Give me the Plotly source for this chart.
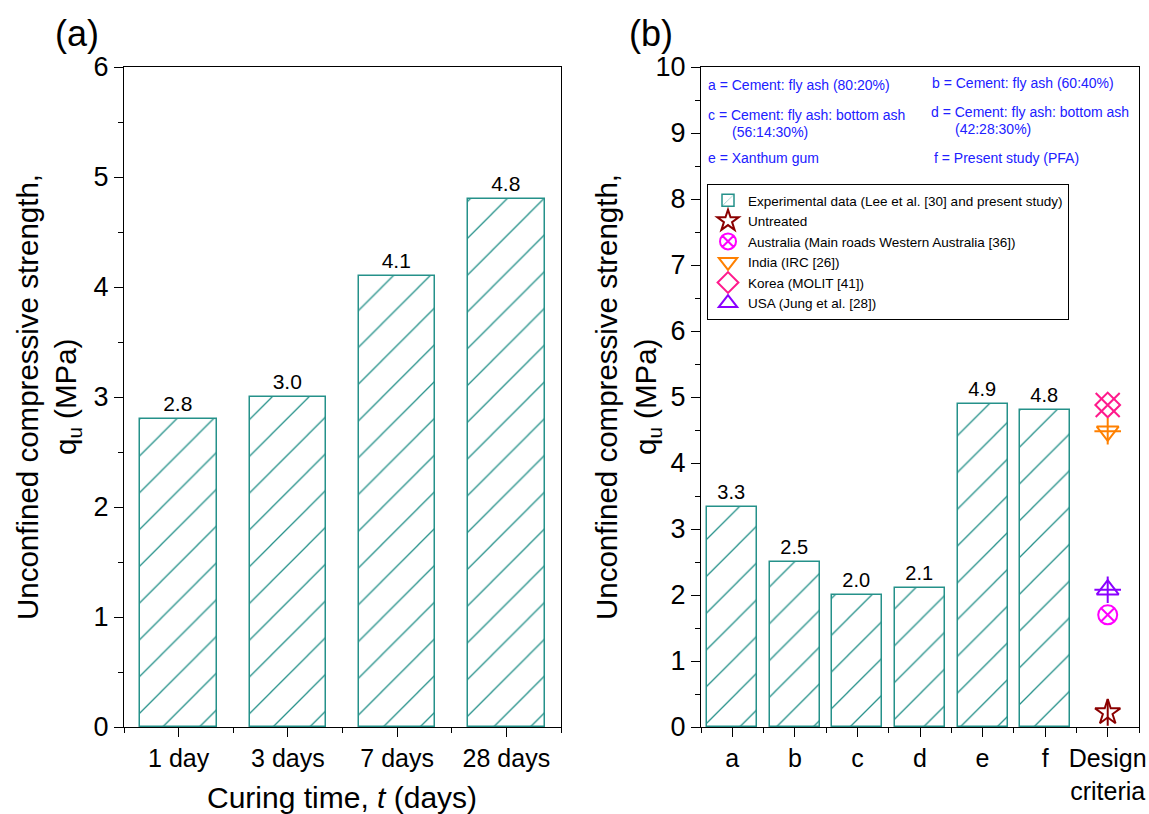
import plotly.graph_objects as go

# ---------------- data ----------------
curing_days = ["1 day", "3 days", "7 days", "28 days"]
ucs_curing = [2.8, 3.0, 4.1, 4.8]

mix_labels = ["a", "b", "c", "d", "e", "f", "Design<br>criteria"]
ucs_mix = [3.33, 2.5, 2.0, 2.1, 4.9, 4.8]

criteria_names = ["Untreated", "Australia (Main roads Western Australia [36])",
                  "India (IRC [26])", "Korea (MOLIT [41])", "USA (Jung et al. [28])"]
criteria_values = [0.22, 1.70, 4.48, 4.88, 2.08]

mix_notes = [
    "a = Cement: fly ash (80:20%)",
    "b = Cement: fly ash (60:40%)",
    "c = Cement: fly ash: bottom ash",
    "(56:14:30%)",
    "d = Cement: fly ash: bottom ash",
    "(42:28:30%)",
    "e = Xanthum gum",
    "f = Present study (PFA)",
]

# ---------------- styles ----------------
W, H = 1149, 814
FONT = "Arial, Liberation Sans, sans-serif"
TEAL = "#25918a"
BLUE = "#2020ff"

def px(x):
    return x / W

def py(y):
    return 1 - y / H

fig = go.Figure()

pattern = dict(shape="/", size=26, solidity=0.05, fgcolor=TEAL, bgcolor="white", fgopacity=1)

fig.add_trace(go.Bar(
    x=list(range(len(curing_days))), y=ucs_curing, width=0.70,
    marker=dict(color="white", line=dict(color=TEAL, width=1.5), pattern=pattern),
    texttemplate="%{y:.1f}", textposition="outside", cliponaxis=False,
    textfont=dict(size=21, color="black", family=FONT),
    showlegend=False, xaxis="x", yaxis="y",
))

fig.add_trace(go.Bar(
    x=list(range(len(ucs_mix))), y=ucs_mix, width=0.80,
    marker=dict(color="white", line=dict(color=TEAL, width=1.5), pattern=pattern),
    texttemplate="%{y:.1f}", textposition="outside", cliponaxis=False,
    textfont=dict(size=20, color="black", family=FONT),
    name="Experimental data (Lee et al. [30] and present study)",
    xaxis="x2", yaxis="y2",
))

design_x = len(mix_labels) - 1
symbols = ["star-open", "circle-x-open", "triangle-down-open", "diamond-open", "triangle-up-open"]
overlays = ["line-ns-open", None, "cross-thin-open", "x-thin-open", "cross-thin-open"]
ov_sizes = [19, 0, 19, 24, 19]
colors = ["#8b0000", "#ff00ff", "#ff8000", "#ff1a8c", "#8a00ff"]
for name, val, sym, ov, osz, col in zip(criteria_names, criteria_values, symbols, overlays, ov_sizes, colors):
    fig.add_trace(go.Scatter(
        x=[design_x], y=[val], mode="markers", name=name,
        marker=dict(symbol=sym, size=19, color=col, line=dict(color=col, width=2)),
        xaxis="x2", yaxis="y2", cliponaxis=False, legendgroup=name,
    ))
    if ov:
        fig.add_trace(go.Scatter(
            x=[design_x], y=[val], mode="markers", name=name, showlegend=False,
            marker=dict(symbol=ov, size=osz, color=col, line=dict(color=col, width=2)),
            xaxis="x2", yaxis="y2", cliponaxis=False, legendgroup=name,
        ))

axis_common = dict(showline=True, linecolor="black", linewidth=1.3, mirror=True,
                   ticks="outside", tickcolor="black", tickwidth=1.3, ticklen=9,
                   showgrid=False, zeroline=False, automargin=False,
                   tickfont=dict(family=FONT, size=27, color="black"))
xfont = dict(family=FONT, size=25, color="black")

fig.update_layout(
    width=W, height=H,
    margin=dict(l=0, r=0, t=0, b=0),
    paper_bgcolor="white", plot_bgcolor="white",
    font=dict(family=FONT, color="black"),
    bargap=0,
    xaxis=dict(**{**axis_common, "tickfont": xfont},
               domain=[px(124), px(561)], range=[-0.5, len(curing_days) - 0.5],
               tickmode="array", tickvals=list(range(len(curing_days))), ticktext=curing_days,
               minor=dict(tickmode="array", tickvals=[i + 0.5 for i in range(-1, len(curing_days))],
                          ticklen=5, tickcolor="black", tickwidth=1.3, ticks="outside"),
               anchor="y"),
    yaxis=dict(**axis_common, domain=[py(727), py(67)], range=[0, 6], dtick=1, tick0=0,
               minor=dict(dtick=0.5, ticklen=5, tickcolor="black", tickwidth=1.3, ticks="outside"),
               anchor="x"),
    xaxis2=dict(**{**axis_common, "tickfont": xfont},
                domain=[px(701), px(1139)], range=[-0.5, len(mix_labels) - 0.5],
                tickmode="array", tickvals=list(range(len(mix_labels))), ticktext=mix_labels,
                minor=dict(tickmode="array", tickvals=[i + 0.5 for i in range(-1, len(mix_labels))],
                           ticklen=5, tickcolor="black", tickwidth=1.3, ticks="outside"),
                anchor="y2"),
    yaxis2=dict(**axis_common, domain=[py(727), py(67)], range=[0, 10], dtick=1, tick0=0,
                minor=dict(dtick=0.5, ticklen=5, tickcolor="black", tickwidth=1.3, ticks="outside"),
                anchor="x2"),
    legend=dict(x=px(707), y=py(184), xanchor="left", yanchor="top",
                bordercolor="black", borderwidth=1, bgcolor="white",
                font=dict(family=FONT, size=13.5, color="black"),
                tracegroupgap=0, itemwidth=30),
)

annotations = []
# panel labels
annotations.append(dict(text="(a)", x=px(77), y=py(33), font=dict(size=36)))
annotations.append(dict(text="(b)", x=px(651), y=py(34), font=dict(size=36)))
# y titles
for cx1, cx2 in [(27, 67), (606, 647)]:
    annotations.append(dict(text="Unconfined compressive strength,", x=px(cx1), y=py(397),
                            textangle=-90, font=dict(size=29.5)))
    annotations.append(dict(text="q<sub>u</sub> (MPa)", x=px(cx2), y=py(397),
                            textangle=-90, font=dict(size=29.5)))
# x title
annotations.append(dict(text="Curing time, <i>t</i> (days)", x=px(342), y=py(797), font=dict(size=30)))

note_pos = [(706, 85), (930, 83), (706, 115), (730, 132), (929, 112), (953, 129), (706, 158), (932, 158)]
for txt, (nx, ny) in zip(mix_notes, note_pos):
    annotations.append(dict(text=txt, x=px(nx), y=py(ny), xanchor="left",
                            font=dict(size=14, color=BLUE)))

for a in annotations:
    a.setdefault("xref", "paper")
    a.setdefault("yref", "paper")
    a.setdefault("showarrow", False)
    a.setdefault("xanchor", "center")
    a.setdefault("yanchor", "middle")
    a["font"] = {"family": FONT, "color": "black", **a["font"]}
fig.update_layout(annotations=annotations)

fig.write_html("out.html")
